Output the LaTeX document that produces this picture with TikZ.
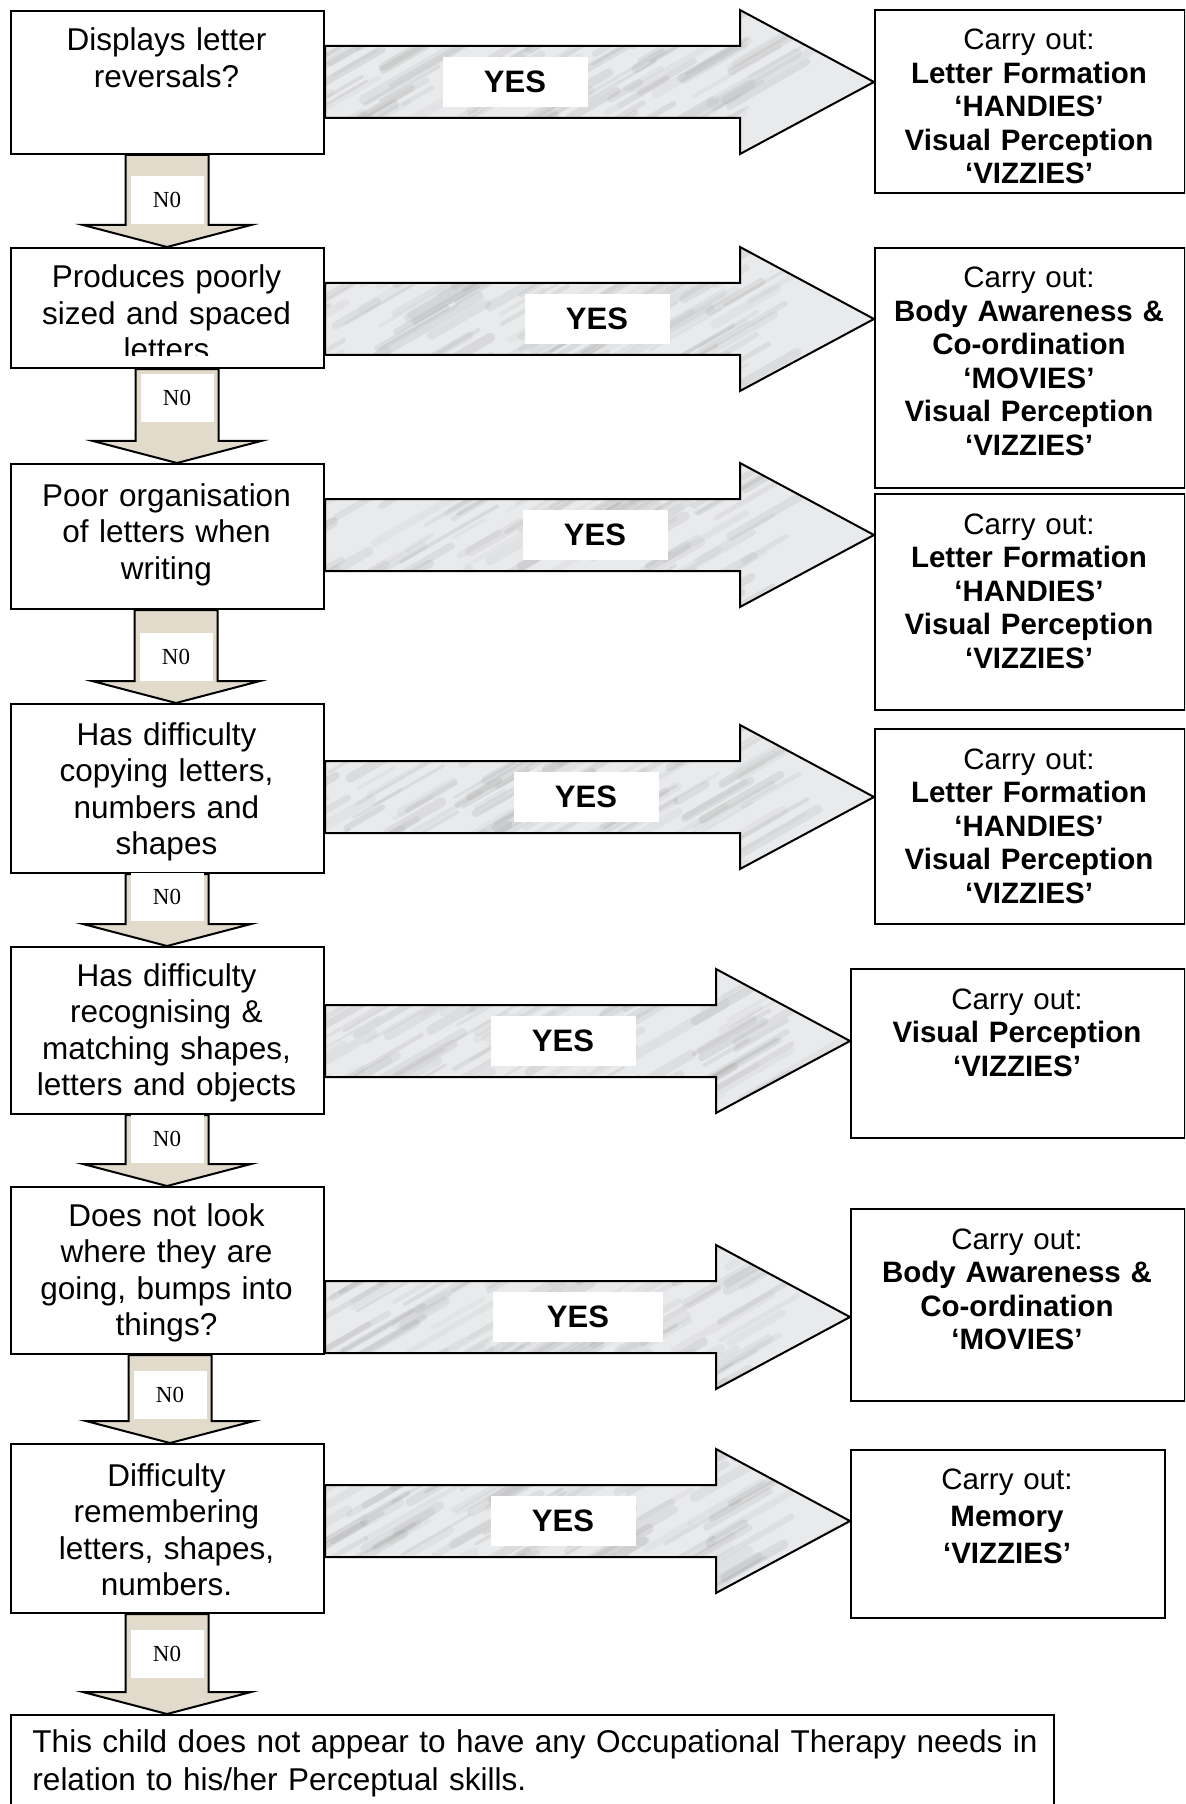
\documentclass[tikz,border=0pt]{standalone}
\usepackage{fontspec}
\setmainfont{Liberation Sans}
\newfontfamily\timesfont{Liberation Serif}
\usetikzlibrary{calc}

\definecolor{marble}{RGB}{233,234,236}
\definecolor{hessian}{RGB}{226,218,203}

\tikzset{
  qbox/.style={draw, line width=0.8pt, fill=white, inner sep=0pt, anchor=north west, minimum width=125.2pt},
  rbox/.style={draw, line width=0.8pt, fill=white, inner sep=0pt, anchor=north west},
  qtext/.style={anchor=base, inner sep=0pt, text width=122pt, align=center, font=\fontsize{12.6}{14.6}\selectfont},
  rtext/.style={anchor=base, inner sep=0pt, text width=122pt, align=center, font=\fontsize{11.8}{13.4}\selectfont},
  marblegrain/.style={path picture={
    \foreach \k in {1,...,140}{
      \pgfmathsetmacro{\shade}{30+40*rnd}
      \pgfmathsetmacro{\wid}{1+3*rnd}
      \pgfmathsetmacro{\ofs}{-30+200*rnd}
      \pgfmathsetmacro{\yo}{-10+70*rnd}
      \pgfmathsetmacro{\len}{12+35*rnd}
      \draw[black!\shade, line width=\wid pt, opacity=0.10, line cap=round]
        ([xshift=\ofs pt, yshift=\yo pt]path picture bounding box.south west) -- ++(30:\len pt);
    }}},
  yesshape/.style={draw, line width=0.8pt, fill=marble, marblegrain},
  noshape/.style={draw, line width=0.8pt, fill=hessian},
  yeslabel/.style={fill=white, inner sep=0pt, minimum width=58pt, minimum height=20pt, font=\fontsize{12.4}{14}\selectfont\bfseries},
  nolabel/.style={fill=white, inner sep=0pt, minimum width=29.2pt, minimum height=19pt, font=\fontsize{9.2}{11}\timesfont},
}

% block arrow to the right: from box, to box, centre y
\newcommand{\yesarrow}[3]{%
  \draw[yesshape] let \p1=(#1.east |- 0,#3), \p2=(#2.west |- 0,#3) in
    (\x1,\y1+14.4pt) -- (\x2-53.6pt,\y1+14.4pt) -- (\x2-53.6pt,\y1+28.8pt) -- (\p2)
    -- (\x2-53.6pt,\y1-28.8pt) -- (\x2-53.6pt,\y1-14.4pt) -- (\x1,\y1-14.4pt) -- cycle;}

% block arrow downwards: from box, to box, centre x
\newcommand{\noarrow}[3]{%
  \draw[noshape] let \p1=(#1.south -| #3,0), \p2=(#2.north -| #3,0) in
    (\x1-16.6pt,\y1) -- (\x1-16.6pt,\y2+8.8pt) -- (\x1-33.6pt,\y2+8.8pt) -- (\p2)
    -- (\x1+33.6pt,\y2+8.8pt) -- (\x1+16.6pt,\y2+8.8pt) -- (\x1+16.6pt,\y1) -- cycle;}

\begin{document}
\begin{tikzpicture}[x=0.4pt, y=-0.4pt]
  \pgfmathsetseed{7}
  \useasboundingbox (0,0) rectangle (1185,1804);
  \clip (0,0) rectangle (1185,1804);

  % Question boxes
  \node[qbox, minimum height=57.2pt] (q1) at (10,10) {};
  \node[qbox, minimum height=48pt] (q2) at (10,247) {};
  \node[qbox, minimum height=58pt] (q3) at (10,463) {};
  \node[qbox, minimum height=67.6pt] (q4) at (10,703) {};
  \node[qbox, minimum height=66.8pt] (q5) at (10,946) {};
  \node[qbox, minimum height=66.8pt] (q6) at (10,1186) {};
  \node[qbox, minimum height=67.6pt] (q7) at (10,1443) {};
  \node[qbox, minimum width=417.2pt, minimum height=46.4pt] (fin) at (10,1714) {};

  % Action boxes
  \node[rbox, minimum width=124pt, minimum height=73.2pt] (r1) at (874,9) {};
  \node[rbox, minimum width=124pt, minimum height=96pt] (r2) at (874,247) {};
  \node[rbox, minimum width=124pt, minimum height=86.4pt] (r3) at (874,493) {};
  \node[rbox, minimum width=124pt, minimum height=78pt] (r4) at (874,728) {};
  \node[rbox, minimum width=133.6pt, minimum height=67.6pt] (r5) at (850,968) {};
  \node[rbox, minimum width=133.6pt, minimum height=76.8pt] (r6) at (850,1208) {};
  \node[rbox, minimum width=125.6pt, minimum height=67.2pt] (r7) at (850,1449) {};

  % Question texts
  \node[qtext] (q1t) at (166.5,51) {Displays letter\\reversals?};
  \begin{scope}
    \clip (10,247) rectangle (323,356);
    \node[qtext] (q2t) at (166.5,288) {Produces poorly\\sized and spaced\\letters};
  \end{scope}
  \node[qtext] (q3t) at (166.5,506) {Poor organisation\\of letters when\\writing};
  \node[qtext] (q4t) at (166.5,745) {Has difficulty\\copying letters,\\numbers and\\shapes};
  \node[qtext] (q5t) at (166.5,986) {Has difficulty\\recognising \&\\matching shapes,\\letters and objects};
  \node[qtext] (q6t) at (166.5,1226) {Does not look\\where they are\\going, bumps into\\things?};
  \node[qtext] (q7t) at (166.5,1486) {Difficulty\\remembering\\letters, shapes,\\numbers.};

  % Action texts
  \node[rtext] (r1t) at (1029,50) {Carry out:\\\textbf{Letter Formation}\\\textbf{‘HANDIES’}\\\textbf{Visual Perception}\\\textbf{‘VIZZIES’}};
  \node[rtext] (r2t) at (1029,288) {Carry out:\\\textbf{Body Awareness \&}\\\textbf{Co-ordination}\\\textbf{‘MOVIES’}\\\textbf{Visual Perception}\\\textbf{‘VIZZIES’}};
  \node[rtext] (r3t) at (1029,534) {Carry out:\\\textbf{Letter Formation}\\\textbf{‘HANDIES’}\\\textbf{Visual Perception}\\\textbf{‘VIZZIES’}};
  \node[rtext] (r4t) at (1029,769) {Carry out:\\\textbf{Letter Formation}\\\textbf{‘HANDIES’}\\\textbf{Visual Perception}\\\textbf{‘VIZZIES’}};
  \node[rtext] (r5t) at (1017,1009) {Carry out:\\\textbf{Visual Perception}\\\textbf{‘VIZZIES’}};
  \node[rtext] (r6t) at (1017,1249) {Carry out:\\\textbf{Body Awareness \&}\\\textbf{Co-ordination}\\\textbf{‘MOVIES’}};
  \node[rtext, font=\fontsize{11.8}{14.8}\selectfont] (r7t) at (1007,1489) {Carry out:\\\textbf{Memory}\\\textbf{‘VIZZIES’}};

  \node[anchor=base west, inner sep=0pt, text width=420pt, align=left, font=\fontsize{12.6}{15.2}\selectfont] (fint) at (32,1752)
    {This child does not appear to have any Occupational Therapy needs in\\relation to his/her Perceptual skills.};

  % YES arrows
  \yesarrow{q1}{r1}{82}
  \yesarrow{q2}{r2}{319}
  \yesarrow{q3}{r3}{535}
  \yesarrow{q4}{r4}{797}
  \yesarrow{q5}{r5}{1041}
  \yesarrow{q6}{r6}{1317}
  \yesarrow{q7}{r7}{1521}

  \node[yeslabel] (y1) at (515,82) {YES};
  \node[yeslabel] (y2) at (597,319) {YES};
  \node[yeslabel] (y3) at (595,535) {YES};
  \node[yeslabel] (y4) at (586,797) {YES};
  \node[yeslabel] (y5) at (563,1041) {YES};
  \node[yeslabel, minimum width=68pt] (y6) at (578,1317) {YES};
  \node[yeslabel] (y7) at (563,1521) {YES};

  % NO arrows
  \noarrow{q1}{q2}{167}
  \noarrow{q2}{q3}{177}
  \noarrow{q3}{q4}{176}
  \noarrow{q4}{q5}{167}
  \noarrow{q5}{q6}{167}
  \noarrow{q6}{q7}{170}
  \noarrow{q7}{fin}{167}

  \node[nolabel] (n1) at (167,200) {N0};
  \node[nolabel] (n2) at (177,398) {N0};
  \node[nolabel] (n3) at (176,657) {N0};
  \node[nolabel] (n4) at (167,897) {N0};
  \node[nolabel] (n5) at (167,1139) {N0};
  \node[nolabel] (n6) at (170,1395) {N0};
  \node[nolabel] (n7) at (167,1654) {N0};
\end{tikzpicture}
\end{document}
